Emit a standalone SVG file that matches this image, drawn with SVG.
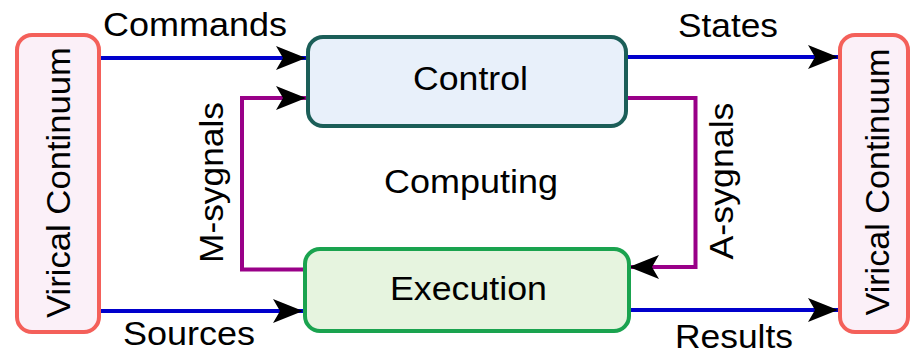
<svg xmlns="http://www.w3.org/2000/svg" width="912" height="354" viewBox="0 0 912 354">
<style>
text{font-family:"Liberation Sans",Arial,Helvetica,sans-serif;font-size:33px;fill:#000;text-anchor:middle}
.vc{fill:#fbf0f8;stroke:#f4605a;stroke-width:4}
.ctl{fill:#e8f0fa;stroke:#1b5e58;stroke-width:4}
.exe{fill:#e6f4df;stroke:#1aa34f;stroke-width:4}
.blue{fill:none;stroke:#0000cc;stroke-width:4}
.purple{fill:none;stroke:#990088;stroke-width:4}
</style>
<defs>
<marker id="ah" markerUnits="userSpaceOnUse" markerWidth="32" markerHeight="26" viewBox="0 0 32 26" refX="31" refY="13" orient="auto">
<path d="M1,1 L31,13 L1,25 L8,13 Z" fill="#000"/>
</marker>
</defs>
<g id="connectors">
<path class="blue" d="M101,58 H306" marker-end="url(#ah)"/>
<path class="blue" d="M101,311 H303" marker-end="url(#ah)"/>
<path class="blue" d="M628,57 H838" marker-end="url(#ah)"/>
<path class="blue" d="M631,310 H838" marker-end="url(#ah)"/>
<path class="purple" d="M305,269.5 H242 V98 H306" marker-end="url(#ah)"/>
<path class="purple" d="M628,98 H695.5 V267 H629" marker-end="url(#ah)"/>
</g>
<g id="label-commands"><text x="195" y="36" textLength="184" lengthAdjust="spacingAndGlyphs">Commands</text></g>
<g id="label-sources"><text x="189" y="345" textLength="132" lengthAdjust="spacingAndGlyphs">Sources</text></g>
<g id="label-states"><text x="728" y="37" textLength="100" lengthAdjust="spacingAndGlyphs">States</text></g>
<g id="label-results"><text x="734" y="348" textLength="118" lengthAdjust="spacingAndGlyphs">Results</text></g>
<g id="label-msygnals"><text transform="translate(223,182.5) rotate(-90)" textLength="161" lengthAdjust="spacingAndGlyphs">M-sygnals</text></g>
<g id="label-asygnals"><text transform="translate(733,181) rotate(-90)" textLength="157" lengthAdjust="spacingAndGlyphs">A-sygnals</text></g>
<g id="vc-left">
<rect class="vc" x="17" y="35" width="82" height="297" rx="15"/>
<text transform="translate(70,182.5) rotate(-90)" textLength="271" lengthAdjust="spacingAndGlyphs">Virical Continuum</text>
</g>
<g id="vc-right">
<rect class="vc" x="840" y="35" width="68" height="297" rx="15"/>
<text transform="translate(889,182) rotate(-90)" textLength="267" lengthAdjust="spacingAndGlyphs">Virical Continuum</text>
</g>
<g id="control">
<rect class="ctl" x="308" y="37" width="318" height="89" rx="15"/>
<text x="470.5" y="90" textLength="115" lengthAdjust="spacingAndGlyphs">Control</text>
</g>
<g id="execution">
<rect class="exe" x="305" y="249" width="324" height="82" rx="15"/>
<text x="468.5" y="300" textLength="157" lengthAdjust="spacingAndGlyphs">Execution</text>
</g>
<g id="computing"><text x="471" y="193" textLength="174" lengthAdjust="spacingAndGlyphs">Computing</text></g>
</svg>
